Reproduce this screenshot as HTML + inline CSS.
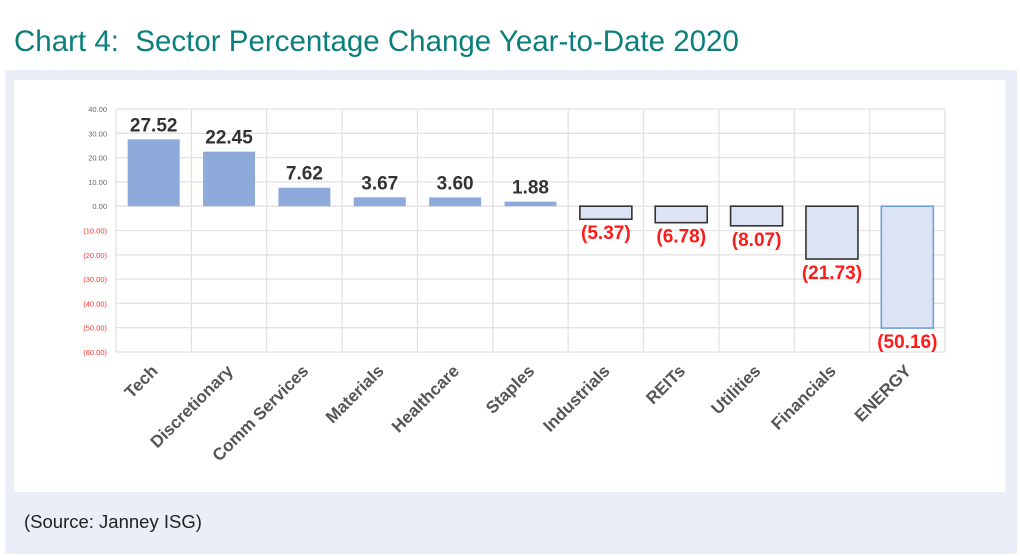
<!DOCTYPE html>
<html><head><meta charset="utf-8"><style>
body{margin:0;width:1020px;height:556px;background:#fff;font-family:"Liberation Sans",sans-serif;overflow:hidden;position:relative}
.title{position:absolute;left:14px;top:25px;font-size:29.5px;color:#0b7f7b}
.panel{position:absolute;left:5px;top:70px;width:1012px;height:484px;background:#eaeef6}
.white{position:absolute;left:14px;top:80px;width:991px;height:412px;background:#fff}
.src{position:absolute;left:24px;top:511px;font-size:18.5px;color:#222}
</style></head><body>
<div class="title">Chart 4:&nbsp; Sector Percentage Change Year-to-Date 2020</div>
<div class="panel"></div>
<div class="white"></div>
<svg id="chart" width="1020" height="556" style="position:absolute;left:0;top:0"></svg>
<div class="src">(Source: Janney ISG)</div>
<script>
const categories=["Tech","Discretionary","Comm Services","Materials","Healthcare","Staples","Industrials","REITs","Utilities","Financials","ENERGY"];
const values=[27.52,22.45,7.62,3.67,3.60,1.88,-5.37,-6.78,-8.07,-21.73,-50.16];
const valueLabels=["27.52","22.45","7.62","3.67","3.60","1.88","(5.37)","(6.78)","(8.07)","(21.73)","(50.16)"];
const ticks=[40,30,20,10,0,-10,-20,-30,-40,-50,-60];
const tickLabels=["40.00","30.00","20.00","10.00","0.00","(10.00)","(20.00)","(30.00)","(40.00)","(50.00)","(60.00)"];
const NS="http://www.w3.org/2000/svg";
const svg=document.getElementById("chart");
const x0=116,x1=945,yTop=109,yBot=352;
const band=(x1-x0)/categories.length;
function y(v){return yTop+(40-v)/100*(yBot-yTop);}
function xc(i){return x0+band*(i+0.5);}
function mk(tag,attrs,txt){const e=document.createElementNS(NS,tag);for(const k in attrs)e.setAttribute(k,attrs[k]);if(txt!==undefined)e.textContent=txt;svg.appendChild(e);return e;}
ticks.forEach((t,i)=>{
  const g=mk("line",{x1:x0,x2:x1,y1:y(t),y2:y(t),stroke:"#e2e2e2","stroke-width":1.3});
  
  
  const l=mk("text",{x:107,y:y(t)+3,"text-anchor":"end","font-size":7.5,fill:t<0?"#ff3030":"#666"},tickLabels[i]);
  
  
});
for(let i=0;i<=categories.length;i++){
  const g=mk("line",{x1:x0+band*i,x2:x0+band*i,y1:yTop,y2:yBot,stroke:"#e2e2e2","stroke-width":1.3});
  
  
}
const bw=52;
values.forEach((v,i)=>{
  const top=y(Math.max(v,0)),bot=y(Math.min(v,0));
  const neg=v<0,last=i===values.length-1;
  const r=mk("rect",{x:xc(i)-bw/2,y:top,width:bw,height:bot-top,fill:neg?"#dbe3f4":"#8eaadb",stroke:neg?(last?"#6fa0d8":"#333"):"none","stroke-width":neg?1.6:0});
  
  
  const ly=neg?bot+20:top-8;
  const t=mk("text",{x:xc(i),y:ly,"text-anchor":"middle","font-size":19,"font-weight":"bold",fill:neg?"#ff1a1a":"#333"},valueLabels[i]);
  
  
  const c=mk("text",{x:0,y:0,"text-anchor":"end","font-size":17,"font-weight":"bold",fill:"#555",transform:`translate(${xc(i)+5},${372}) rotate(-45)`},categories[i]);
  
  
});
</script>
</body></html>
